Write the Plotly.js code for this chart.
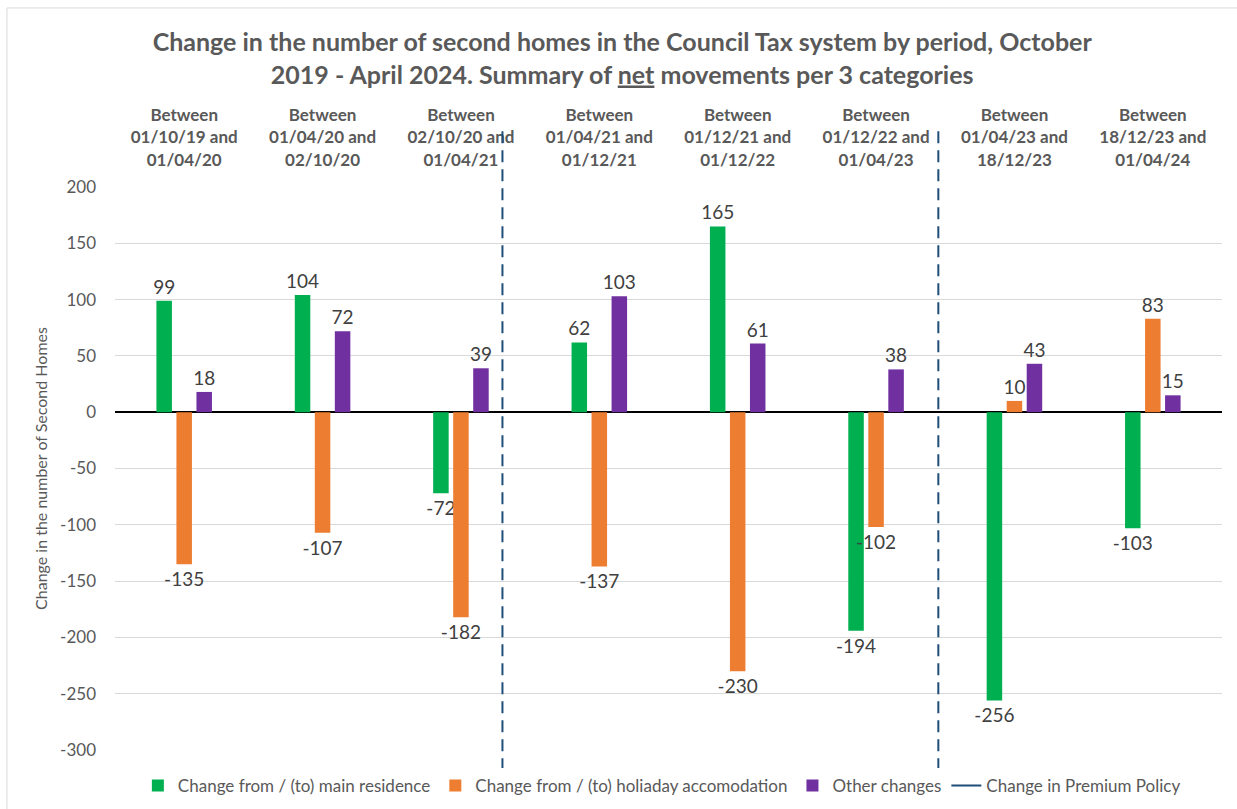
<!DOCTYPE html>
<html>
<head>
<meta charset="utf-8">
<script src="https://cdn.plot.ly/plotly-3.0.1.min.js"></script>
<style>
  html, body { margin: 0; padding: 0; background: #fff; }
  #chart { width: 1237px; height: 809px; }
</style>
</head>
<body>
<div id="chart"></div>
<script>
// periods (x categories, shown on top)
const periods = [
  "Between<br>01/10/19 and<br>01/04/20",
  "Between<br>01/04/20 and<br>02/10/20",
  "Between<br>02/10/20 and<br>01/04/21",
  "Between<br>01/04/21 and<br>01/12/21",
  "Between<br>01/12/21 and<br>01/12/22",
  "Between<br>01/12/22 and<br>01/04/23",
  "Between<br>01/04/23 and<br>18/12/23",
  "Between<br>18/12/23 and<br>01/04/24"
];

const mainResidence = [99, 104, -72, 62, 165, -194, -256, -103];
const holidayAccom = [-135, -107, -182, -137, -230, -102, 10, 83];
const otherChanges = [18, 72, 39, 103, 61, 38, 43, 15];

const yTicks = [200, 150, 100, 50, 0, -50, -100, -150, -200, -250, -300];

// premium policy changes, in category index units
const policyChanges = [2.3, 5.45];

const font = "Lato, 'Open Sans', sans-serif";
const grey = "#595959";

function barTrace(name, values, color) {
  return {
    type: "bar",
    name: name,
    x: periods,
    y: values,
    marker: { color: color },
    text: values.map(String),
    textposition: "outside",
    constraintext: "none",
    cliponaxis: false,
    textfont: { family: font, size: 19, color: "#404040" }
  };
}

const traces = [
  barTrace("Change from / (to) main residence", mainResidence, "#00B050"),
  barTrace("Change from / (to) holiaday accomodation", holidayAccom, "#ED7D31"),
  barTrace("Other changes", otherChanges, "#7030A0"),
  {
    // legend entry only, the lines are shapes
    type: "scatter",
    mode: "lines",
    name: "Change in Premium Policy",
    x: [null],
    y: [null],
    line: { color: "#1F4E79", width: 2 }
  }
];

const shapes = policyChanges.map(p => ({
  type: "line",
  xref: "x", yref: "paper",
  x0: p, x1: p, y0: -0.036, y1: 1.11,
  line: { color: "#1F4E79", width: 2, dash: "12px,7px" }
}));

// outer chart border
shapes.push({
  type: "rect", xref: "paper", yref: "paper",
  x0: -0.0976, x1: 1.02, y0: -0.2, y1: 1.318,
  line: { color: "#D9D9D9", width: 1 }
});

const layout = {
  width: 1237,
  height: 809,
  margin: { l: 115, r: 15, t: 187, b: 59 },
  paper_bgcolor: "#fff",
  plot_bgcolor: "#fff",
  font: { family: font, color: grey },
  title: {
    text: "<b>Change in the number of second homes in the Council Tax system by period, October<br>2019 - April 2024. Summary of <u>net</u> movements per 3 categories</b>",
    font: { family: font, size: 25, color: grey },
    x: 0.503, xref: "container",
    y: 1 - 51 / 809, yref: "container", yanchor: "middle"
  },
  barmode: "group",
  bargap: 0.566,
  bargroupgap: 0.225,
  showlegend: true,
  legend: {
    orientation: "h",
    x: 0.494, xanchor: "center",
    y: 23 / 809, yref: "container", yanchor: "middle",
    font: { family: font, size: 17, color: grey },
    traceorder: "normal"
  },
  xaxis: {
    type: "category",
    side: "top",
    showgrid: false,
    ticks: "",
    showline: false,
    tickfont: { family: font, size: 17, color: grey, weight: "bold" },
    ticklabelstandoff: 17
  },
  yaxis: {
    range: [-300, 200],
    tickvals: yTicks,
    ticktext: yTicks.map(String),
    showgrid: true,
    gridcolor: "#D9D9D9",
    gridwidth: 1,
    zeroline: true,
    zerolinecolor: "#000",
    zerolinewidth: 1.5,
    showline: false,
    ticks: "",
    ticklabelstandoff: 18,
    tickfont: { family: font, size: 17, color: grey },
    title: {
      text: "Change in the number of Second Homes",
      font: { family: font, size: 16, color: grey },
      standoff: 8
    }
  },
  shapes: shapes
};

Plotly.newPlot("chart", traces, layout, { displayModeBar: false, staticPlot: true });
</script>
</body>
</html>
